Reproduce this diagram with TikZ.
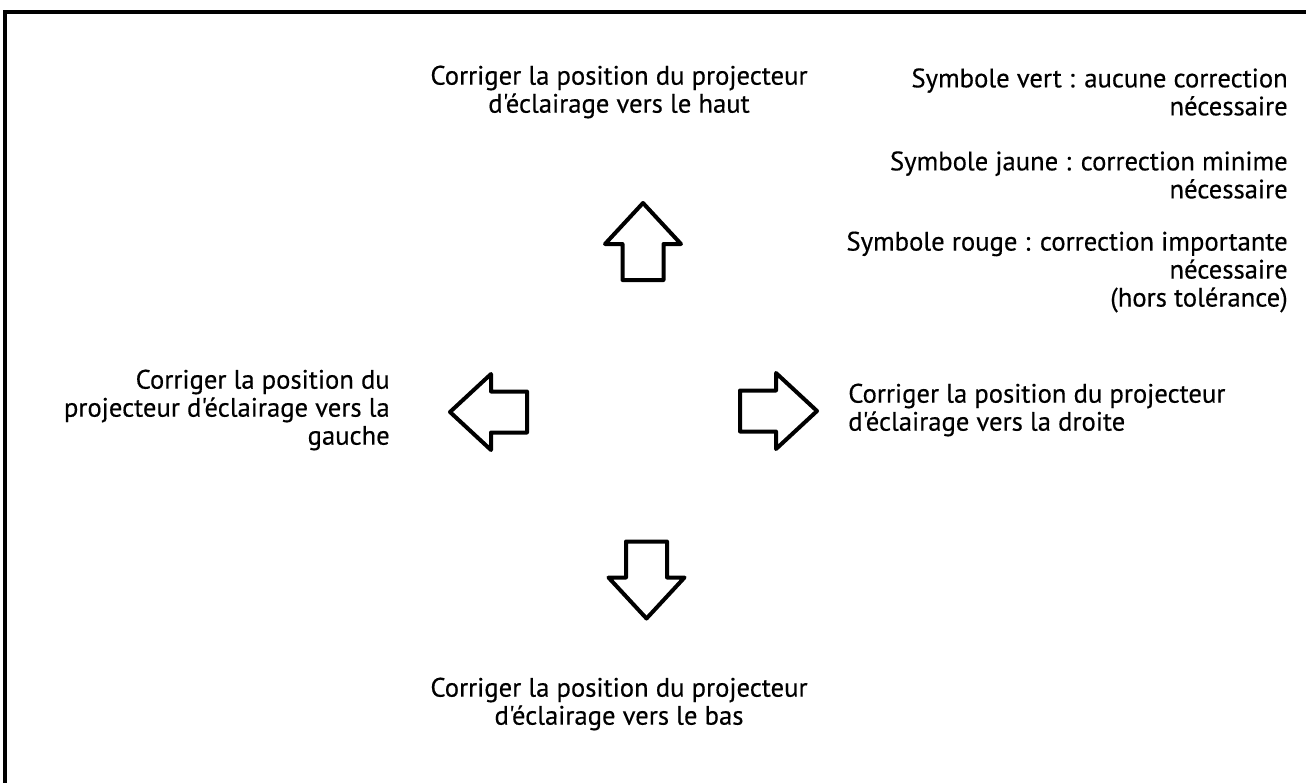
\documentclass[tikz,border=0pt]{standalone}
\usepackage{fontspec}
\setmainfont{PT Sans}[Ligatures=TeXOff,FakeBold=0.4]
\usetikzlibrary{positioning}

\tikzset{
  bigarrow/.pic={
    \draw[line width=3pt,line join=round]
      (-38.5,-20.5) -- (-2.5,-20.5) -- (-2.5,-38) -- (38.5,0)
      -- (-2.5,38) -- (-2.5,20.5) -- (-38.5,20.5) -- cycle;
  }
}

\begin{document}
\begin{tikzpicture}[
  x=0.75pt, y=-0.75pt,
  txt/.style={inner sep=0pt,font=\fontsize{20}{21}\selectfont},
  legend/.style={txt,align=right}
]
\useasboundingbox (0,0) rectangle (1306,782);
% frame
\draw[line width=3pt] (5,800) -- (5,12) -- (1320,12);

% arrows
\pic[rotate=90] at (643,241.5) {bigarrow};
\pic[rotate=180] at (488.5,412) {bigarrow};
\pic at (778.5,411) {bigarrow};
\pic[rotate=-90] at (646.5,580) {bigarrow};

% labels
\node[txt,align=center] (haut) at (619,92)
  {Corriger la position du projecteur\\d'éclairage vers le haut};
\node[txt,align=center] (bas) at (619,704)
  {Corriger la position du projecteur\\d'éclairage vers le bas};
\node[txt,align=right,anchor=east] (gauche) at (390,410)
  {Corriger la position du\\projecteur d'éclairage vers la\\gauche};
\node[txt,align=left,anchor=west] (droite) at (848,410)
  {Corriger la position du projecteur\\d'éclairage vers la droite};

% legend
\node[legend,anchor=east] (vert) at (1288,92)
  {Symbole vert : aucune correction\\nécessaire};
\node[legend,anchor=east] (jaune) at (1288,175)
  {Symbole jaune : correction minime\\nécessaire};
\node[legend,anchor=east] (rouge) at (1288,272)
  {Symbole rouge : correction importante\\nécessaire\\(hors tolérance)};
\end{tikzpicture}
\end{document}
